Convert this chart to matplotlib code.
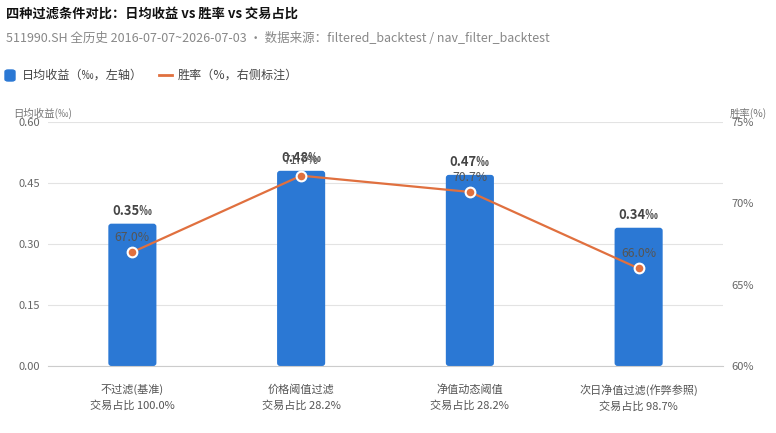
import matplotlib
matplotlib.use("Agg")
import matplotlib.pyplot as plt
from matplotlib.patches import FancyBboxPatch
from matplotlib.lines import Line2D

plt.rcParams['font.family'] = ['Noto Sans CJK SC', 'DejaVu Sans']

categories = ["不过滤(基准)", "价格阈值过滤", "净值动态阈值", "次日净值过滤(作弊参照)"]
trade_share = [100.0, 28.2, 28.2, 98.7]
daily_ret = [0.35, 0.48, 0.47, 0.34]
win_rate = [67.0, 71.7, 70.7, 66.0]
left_ticks = [0.00, 0.15, 0.30, 0.45, 0.60]
right_ticks = [60, 65, 70, 75]

BLUE = "#2b78d4"
ORANGE = "#e0703f"
W, H = 776, 433

fig = plt.figure(figsize=(W/100, H/100), dpi=100)
ax = fig.add_axes([48/W, 1-366/H, (723-48)/W, (366-122)/H])
ax2 = ax.twinx()

x = list(range(len(categories)))
bars = ax.bar(x, daily_ret, width=0.285, color=BLUE, zorder=2)
ax.set_xlim(-0.5, 3.5)
ax.set_ylim(0, 0.6)
# rounded-top bars
px_x = 4.0 / (723 - 48)
px_y = 0.6 / (366 - 122)
for b in bars:
    b.set_visible(False)
    p = FancyBboxPatch((b.get_x(), b.get_y()), b.get_width(), b.get_height(),
                       boxstyle=f"round,pad=0,rounding_size={3*px_x}",
                       mutation_aspect=px_y/px_x, color=BLUE, zorder=2, linewidth=0)
    ax.add_patch(p)

ax.set_yticks(left_ticks)
ax.set_yticklabels([f"{v:.2f}" for v in left_ticks])
ax.grid(axis='y', color="#e3e3e3", linewidth=0.8, zorder=0)
ax.set_axisbelow(True)
for s in ax.spines.values():
    s.set_visible(False)
for s in ax2.spines.values():
    s.set_visible(False)
ax.spines['bottom'].set_visible(True)
ax.spines['bottom'].set_color("#cccccc")
ax.tick_params(axis='y', length=0, labelsize=8, labelcolor="#666666", pad=6)
ax.tick_params(axis='x', length=0, pad=13)
ax.set_xticks(x)
ax.set_xticklabels([f"{c}\n交易占比 {t:.1f}%" for c, t in zip(categories, trade_share)],
                   fontsize=8, color="#555555", linespacing=1.6)

ax2.set_ylim(60, 75)
ax2.set_yticks(right_ticks)
ax2.set_yticklabels([f"{v}%" for v in right_ticks])
ax2.tick_params(axis='y', length=0, labelsize=8, labelcolor="#666666", pad=6)
ax2.plot(x, win_rate, color=ORANGE, linewidth=1.6, marker='o', markersize=7,
         markerfacecolor=ORANGE, markeredgecolor="white", markeredgewidth=1.5, zorder=3)

for xi, v in zip(x, daily_ret):
    ax.annotate(f"{v:.2f}‰", (xi, v), xytext=(0, 4), textcoords="offset points",
                ha='center', va='bottom', fontsize=9.3, fontweight='bold', color="#444444")
for xi, v in zip(x, win_rate):
    ax2.annotate(f"{v:.1f}%", (xi, v), xytext=(0, 6), textcoords="offset points",
                 ha='center', va='bottom', fontsize=8.8, color="#555555")

fig.text(13/W, 1-113/H, "日均收益(‰)", fontsize=7.5, color="#777777", va='center', ha='left')
fig.text(730/W, 1-113/H, "胜率(%)", fontsize=7.5, color="#777777", va='center', ha='left')

fig.text(6/W, 1-14/H, "四种过滤条件对比：日均收益 vs 胜率 vs 交易占比", fontsize=9.5,
         fontweight='bold', color="#111111", va='center', ha='left')
fig.text(6/W, 1-38/H, "511990.SH 全历史 2016-07-07~2026-07-03 · 数据来源：filtered_backtest / nav_filter_backtest",
         fontsize=9, color="#888888", va='center', ha='left')

# legend
fig.patches.append(FancyBboxPatch((5/W, 1-81/H), 10/W, 11/H, boxstyle="round,pad=0,rounding_size=0.004",
                                  transform=fig.transFigure, color=BLUE))
fig.text(22/W, 1-75/H, "日均收益（‰，左轴）", fontsize=8.7, color="#444444", va='center', ha='left')
fig.lines.append(Line2D([159/W, 172/W], [1-75/H, 1-75/H], transform=fig.transFigure,
                        color=ORANGE, linewidth=2))
fig.text(178/W, 1-75/H, "胜率（%，右侧标注）", fontsize=8.7, color="#444444", va='center', ha='left')

fig.savefig("out.png", dpi=100)
